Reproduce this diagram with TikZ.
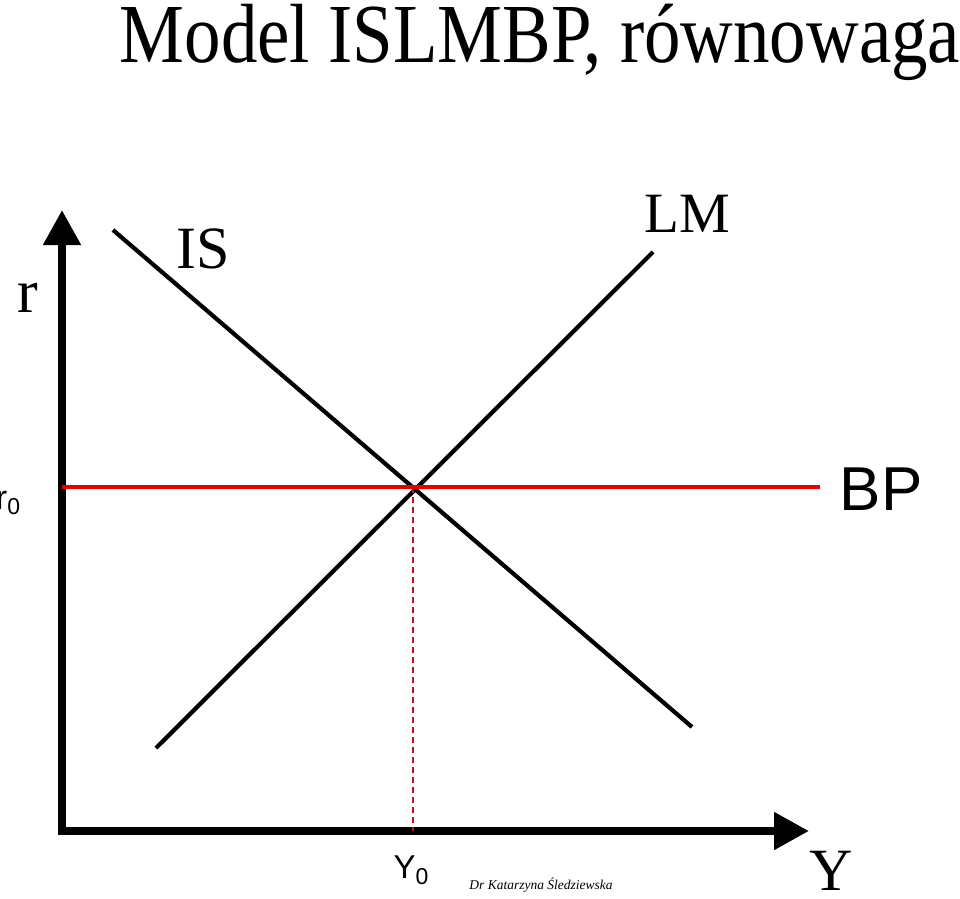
\documentclass[tikz,border=0pt]{standalone}
\usepackage{fontspec}
\setmainfont{Liberation Serif}
\newfontfamily\arialf{Liberation Sans}
\newfontfamily\titlef[FakeStretch=0.868]{Liberation Serif}
\usetikzlibrary{arrows.meta}
\definecolor{bpred}{RGB}{230,0,0}
\definecolor{dashred}{RGB}{190,20,30}
\begin{document}
\begin{tikzpicture}[x=1pt,y=-1pt,
  curve/.style={line width=4.2pt,black},
  axis/.style={line width=8pt,black,{Triangle[length=35pt,width=36pt]}-{Triangle[length=35pt,width=36pt]}},
  lbl/.style={inner sep=0pt,outer sep=0pt}]
\useasboundingbox (0,0) rectangle (960,898);
% title
\node[lbl,anchor=base] (title) at (540,62) {\titlef\fontsize{84}{90}\selectfont Model ISLMBP, równowaga};
% axes
\coordinate (ytip) at (62,210);
\coordinate (orig) at (62,831);
\coordinate (xtip) at (809,831);
\draw[axis] (ytip) -- (orig) -- (xtip);
% curves
\coordinate (is1) at (113,230);
\coordinate (is2) at (692,727);
\coordinate (lm1) at (156,748);
\coordinate (lm2) at (653,252);
\coordinate (bp1) at (62,487);
\coordinate (bp2) at (820,487);
\coordinate (eq) at (413,487);
\coordinate (y0) at (413,831);
\draw[curve] (is1) -- (is2);
\draw[curve] (lm1) -- (lm2);
\draw[line width=4.2pt,bpred] (bp1) -- (bp2);
\draw[line width=1.3pt,dashred,dash pattern=on 6pt off 4pt] (eq) -- (y0);
% labels
\node[lbl,anchor=base] (rl) at (28,312) {\fontsize{62}{62}\selectfont r};
\node[lbl,anchor=base] (isl) at (203,268) {\fontsize{60}{60}\selectfont IS};
\node[lbl,anchor=base] (lml) at (687,232) {\fontsize{57}{60}\selectfont LM};
\node[lbl,anchor=base] (bpl) at (881,510) {\arialf\fontsize{62}{62}\selectfont BP};
\node[lbl,anchor=base] (r0l) at (8,509) {\arialf\fontsize{34}{34}\selectfont r\raisebox{-5pt}{\fontsize{23}{23}\selectfont 0}};
\node[lbl,anchor=base] (y0l) at (411,878) {\arialf\fontsize{33}{33}\selectfont Y\raisebox{-6pt}{\fontsize{23}{23}\selectfont 0}};
\node[lbl,anchor=base] (yl) at (831,890) {\fontsize{60}{60}\selectfont Y};
\node[lbl,anchor=base] (auth) at (541,889) {\itshape\fontsize{13.5}{14}\selectfont Dr Katarzyna Śledziewska};
\end{tikzpicture}
\end{document}
